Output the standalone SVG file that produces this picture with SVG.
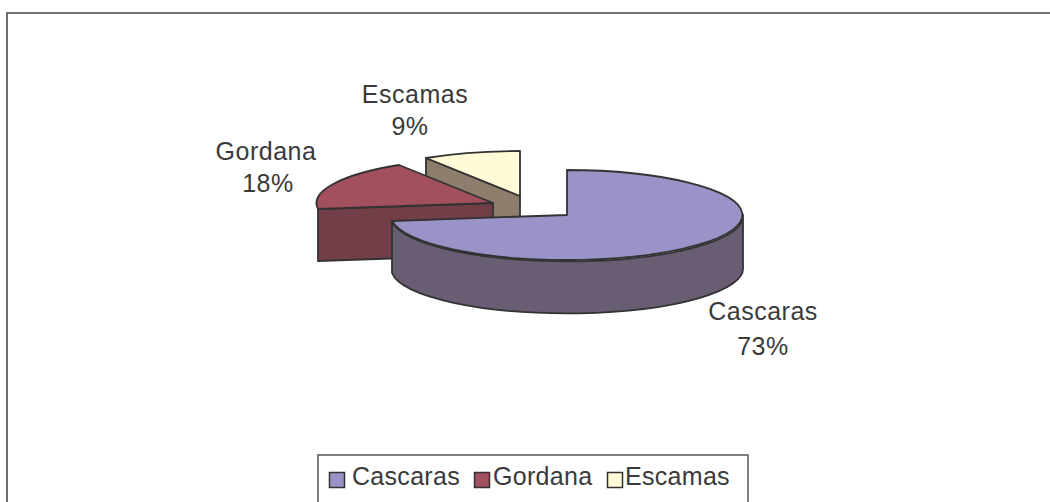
<svg xmlns="http://www.w3.org/2000/svg" width="1050" height="502" viewBox="0 0 1050 502">
<style>
.edge{stroke:#333;stroke-width:1.8;stroke-linejoin:round}
.lbl{font-family:"Liberation Sans",Arial,sans-serif;font-size:25px;fill:#3a3a3a;letter-spacing:0.5px;text-anchor:middle}
.leg{font-family:"Liberation Sans",Arial,sans-serif;font-size:25px;fill:#3a3a3a;letter-spacing:0.3px}
.sw{stroke:#333;stroke-width:1.5}
</style>
<rect width="1050" height="502" fill="#fff"/>
<g id="frame">
<path d="M7,502 V13 H1050" fill="none" stroke="#4a4a4a" stroke-width="1.6"/>
</g>
<g id="escamas">
<path class="edge" d="M426,158 L520,196 L520,248 L426,210 Z" fill="#8D7D6C"/>
<path class="edge" d="M520,196 L426,158 A176 45 0 0 1 520,151 Z" fill="#FFFBD6"/>
</g>
<g id="gordana">
<path class="edge" d="M318,209 L493,203 L493,255 L318,261 Z" fill="#723E48"/>
<path class="edge" d="M493,203 L318,209 A176 45 0 0 1 399,165 Z" fill="#A24F5E"/>
</g>
<g id="cascaras">
<path class="edge" d="M743,215 A176 45 0 0 1 392,221 L392,273 A176 45 0 0 0 743,267 Z" fill="#695D73"/>
<path class="edge" d="M567,215 L567,170 A176 45 0 1 1 392,221 Z" fill="#9A93C8"/>
</g>
<g id="labels">
<text class="lbl" x="415" y="103">Escamas</text>
<text class="lbl" x="410" y="135">9%</text>
<text class="lbl" x="266" y="160">Gordana</text>
<text class="lbl" x="268" y="192">18%</text>
<text class="lbl" x="763" y="320">Cascaras</text>
<text class="lbl" x="763" y="355">73%</text>
</g>
<g id="legend">
<path d="M318,502 V455 H748 V502" fill="#fff" stroke="#555" stroke-width="1.5"/>
<rect class="sw" x="329.5" y="472.5" width="15" height="15" fill="#9A93C8"/>
<text class="leg" x="352" y="485">Cascaras</text>
<rect class="sw" x="474.5" y="472.5" width="15" height="15" fill="#A24F5E"/>
<text class="leg" x="493" y="485">Gordana</text>
<rect class="sw" x="607.5" y="472.5" width="15" height="15" fill="#FFFBD6"/>
<text class="leg" x="625" y="485">Escamas</text>
</g>
</svg>
